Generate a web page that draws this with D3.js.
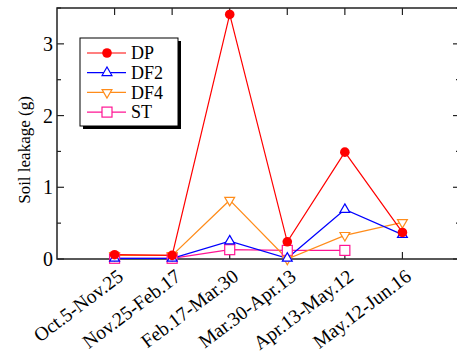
<!DOCTYPE html>
<html>
<head>
<meta charset="utf-8">
<script src="https://cdn.jsdelivr.net/npm/d3@7"></script>
<style>
body { margin: 0; background: #fff; }
</style>
</head>
<body>
<svg id="chart" width="457" height="356"></svg>
<script>
// data
var periods = ["Oct.5-Nov.25", "Nov.25-Feb.17", "Feb.17-Mar.30", "Mar.30-Apr.13", "Apr.13-May.12", "May.12-Jun.16"];
var dp  = [0.06, 0.05, 3.41, 0.24, 1.49, 0.37];
var df2 = [0.01, 0.01, 0.25, 0.01, 0.69, 0.34];
var df4 = [0.05, 0.05, 0.82, 0.00, 0.33, 0.51];
var st  = [0.01, 0.01, 0.13, 0.12, 0.12, null];
var yTicks = [0, 1, 2, 3];
var yMinor = [0.5, 1.5, 2.5, 3.5];

var series = [
	{name: "DP",  values: dp,  color: "#ff0000", shape: "circle"},
	{name: "DF2", values: df2, color: "#0000ff", shape: "up"},
	{name: "DF4", values: df4, color: "#ff8c1a", shape: "down"},
	{name: "ST",  values: st,  color: "#ff1493", shape: "square"}
];

var FONT = "'Liberation Serif', 'Times New Roman', Times, serif";

var svg = d3.select("#chart");
// plot box (window.top is read-only, so no "top" here)
var pL = 57, pR = 460, pT = 8, pB = 259;

var x = d3.scaleLinear().domain([0, periods.length + 1]).range([pL, pR]);
var y = d3.scaleLinear().domain([0, 3.5]).range([pB, pT]);

// frame
svg.append("rect")
	.attr("x", pL).attr("y", pT)
	.attr("width", pR - pL).attr("height", pB - pT)
	.attr("fill", "none").attr("stroke", "#222").attr("stroke-width", 1.5);

// ticks, inward on all sides
var g = svg.append("g").attr("stroke", "#222").attr("stroke-width", 1.2);
yTicks.forEach(function(v){
	g.append("line").attr("x1", pL).attr("x2", pL + 7).attr("y1", y(v)).attr("y2", y(v));
	g.append("line").attr("x1", pR).attr("x2", pR - 7).attr("y1", y(v)).attr("y2", y(v));
});
yMinor.forEach(function(v){
	g.append("line").attr("x1", pL).attr("x2", pL + 4).attr("y1", y(v)).attr("y2", y(v));
	g.append("line").attr("x1", pR).attr("x2", pR - 4).attr("y1", y(v)).attr("y2", y(v));
});
periods.forEach(function(p, i){
	g.append("line").attr("x1", x(i + 1)).attr("x2", x(i + 1)).attr("y1", pB).attr("y2", pB - 7);
	g.append("line").attr("x1", x(i + 1)).attr("x2", x(i + 1)).attr("y1", pT).attr("y2", pT + 7);
});

// y tick labels
svg.selectAll(".ylab").data(yTicks).enter()
	.append("text").attr("class", "ylab")
	.attr("font-family", FONT)
	.attr("x", pL - 4).attr("y", function(d){ return y(d); })
	.attr("dy", "0.35em")
	.attr("text-anchor", "end")
	.attr("font-size", "20px")
	.text(function(d){ return d; });

// x tick labels, rotated
svg.selectAll(".xlab").data(periods).enter()
	.append("text").attr("class", "xlab")
	.attr("font-family", FONT)
	.attr("transform", function(d, i){ return "translate(" + (x(i + 1) + 10) + "," + (pB + 20) + ") rotate(-37)"; })
	.attr("text-anchor", "end")
	.attr("font-size", "19.5px")
	.text(function(d){ return d; });

// y axis title
svg.append("text")
	.attr("font-family", FONT)
	.attr("transform", "translate(30,150) rotate(-90)")
	.attr("text-anchor", "middle")
	.attr("font-size", "17px")
	.text("Soil leakage (g)");

var tri = d3.symbol().type(d3.symbolTriangle).size(42);
function marker(sel, s, cx, cy){
	if(s.shape == "circle"){
		sel.append("circle").attr("cx", cx).attr("cy", cy).attr("r", 4.8)
			.attr("fill", s.color);
	}
	else if(s.shape == "square"){
		sel.append("rect").attr("x", cx - 5).attr("y", cy - 5).attr("width", 10).attr("height", 10)
			.attr("fill", "#fff").attr("stroke", s.color).attr("stroke-width", 1.2);
	}
	else {
		sel.append("path").attr("d", tri)
			.attr("transform", "translate(" + cx + "," + cy + ")" + (s.shape == "down" ? " rotate(180)" : ""))
			.attr("fill", "#fff").attr("stroke", s.color).attr("stroke-width", 1.2);
	}
}

// lines and markers
var line = d3.line()
	.defined(function(d){ return d != null; })
	.x(function(d, i){ return x(i + 1); })
	.y(function(d){ return y(d); });

series.slice().reverse().forEach(function(s){
	svg.append("path").attr("d", line(s.values))
		.attr("fill", "none").attr("stroke", s.color).attr("stroke-width", 1.2);
});
series.slice().reverse().forEach(function(s){
	var mg = svg.append("g");
	s.values.forEach(function(v, i){
		if(v == null) return;
		marker(mg, s, x(i + 1), y(v));
	});
});

// legend
var lx = 80, ly = 38, lw = 98, lh = 88;
svg.append("rect").attr("x", lx + 3).attr("y", ly + 3).attr("width", lw).attr("height", lh).attr("fill", "#000");
svg.append("rect").attr("x", lx).attr("y", ly).attr("width", lw).attr("height", lh)
	.attr("fill", "#fff").attr("stroke", "#000").attr("stroke-width", 1);
series.forEach(function(s, i){
	var yy = ly + 15 + i * 19.7;
	var lg = svg.append("g");
	lg.append("line").attr("x1", lx + 7).attr("x2", lx + 46).attr("y1", yy).attr("y2", yy)
		.attr("stroke", s.color).attr("stroke-width", 1.2);
	marker(lg, s, lx + 27, yy);
	lg.append("text").attr("font-family", FONT)
		.attr("x", lx + 51).attr("y", yy).attr("dy", "0.35em")
		.attr("font-size", "18px").text(s.name);
});
</script>
</body>
</html>
